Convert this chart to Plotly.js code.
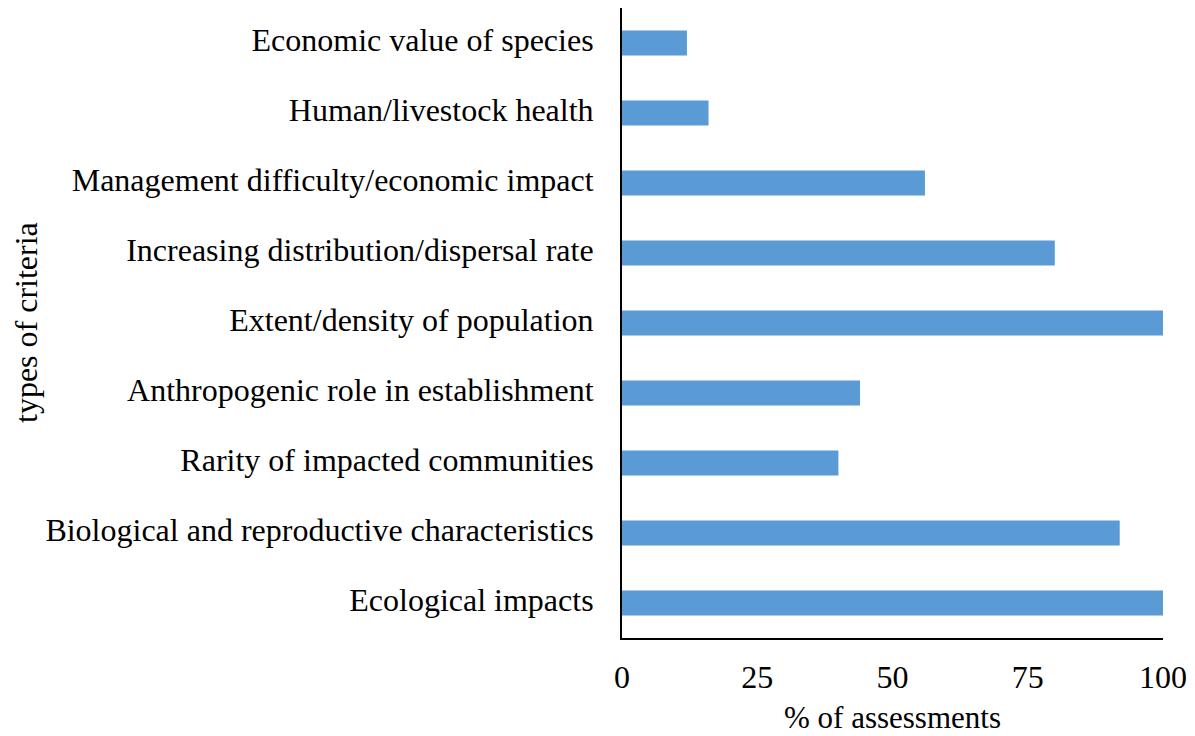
<!DOCTYPE html>
<html>
<head>
<meta charset="utf-8">
<script src="https://cdn.plot.ly/plotly-3.0.1.min.js"></script>
<style>
  html, body { margin: 0; padding: 0; background: #fff; }
  #chart { width: 1195px; height: 736px; }
</style>
</head>
<body>
<div id="chart"></div>
<script>
// Assessment criteria, listed bottom to top
const criteria = [
  "Ecological impacts",
  "Biological and reproductive characteristics",
  "Rarity of impacted communities",
  "Anthropogenic role in establishment",
  "Extent/density of population",
  "Increasing distribution/dispersal rate",
  "Management difficulty/economic impact",
  "Human/livestock health",
  "Economic value of species"
];
// Share of assessments using each criterion (%)
const percentOfAssessments = [100, 92, 40, 44, 100, 80, 56, 16, 12];
const xTickValues = [0, 25, 50, 75, 100];
const xTickLabels = ["0", "25", "50", "75", "100"];
const xTitle = "% of assessments";
const yTitle = "types of criteria";

const serif = "'Liberation Serif', 'Times New Roman', serif";

const trace = {
  type: "bar",
  orientation: "h",
  y: criteria,
  x: percentOfAssessments,
  marker: { color: "#5B9BD5", line: { width: 0 } },
  hoverinfo: "x+y"
};

const layout = {
  width: 1195,
  height: 736,
  margin: { l: 622, r: 32, t: 8, b: 98 },
  paper_bgcolor: "#ffffff",
  plot_bgcolor: "#ffffff",
  bargap: 0.64,
  showlegend: false,
  font: { family: serif, color: "#000000" },
  xaxis: {
    range: [0, 100],
    tickmode: "array",
    tickvals: xTickValues,
    ticktext: xTickLabels,
    showgrid: false,
    zeroline: false,
    showline: true,
    linecolor: "#000000",
    linewidth: 2,
    ticks: "",
    ticklabelstandoff: 10,
    tickfont: { family: serif, size: 32, color: "#000000" },
    fixedrange: true
  },
  yaxis: {
    showgrid: false,
    zeroline: false,
    showline: true,
    linecolor: "#000000",
    linewidth: 2,
    ticks: "",
    ticklabelstandoff: 20,
    ticklabelshift: -3,
    tickfont: { family: serif, size: 32, color: "#000000" },
    fixedrange: true
  },
  annotations: [
    {
      text: xTitle,
      xref: "paper", yref: "paper",
      x: 0.5, y: 0, yshift: -79,
      xanchor: "center", yanchor: "middle",
      showarrow: false,
      borderpad: 0,
      font: { family: serif, size: 31, color: "#000000" }
    },
    {
      text: yTitle,
      xref: "paper", yref: "paper",
      x: 0, y: 0.5, xshift: -596,
      xanchor: "center", yanchor: "middle",
      textangle: -90,
      showarrow: false,
      font: { family: serif, size: 32, color: "#000000" }
    }
  ]
};

Plotly.newPlot("chart", [trace], layout, { displayModeBar: false, staticPlot: true });
</script>
</body>
</html>
